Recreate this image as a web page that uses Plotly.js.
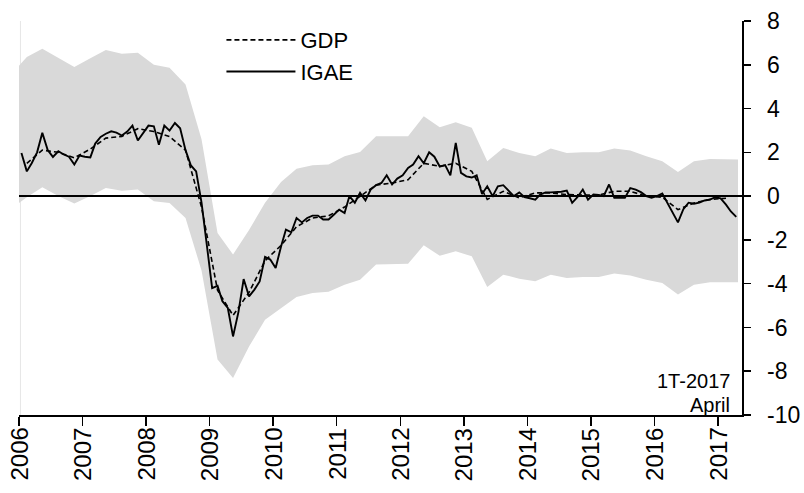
<!DOCTYPE html>
<html>
<head>
<meta charset="utf-8">
<script src="https://cdn.plot.ly/plotly-3.0.1.min.js"></script>
<style>html,body{margin:0;padding:0;background:#fff}#chart{width:804px;height:493px}</style>
</head>
<body>
<div id="chart"></div>
<script>
// IGAE, monthly, Jan 2006 - Apr 2017
const igaeStart = [2006, 1];
const igae = [
  1.97, 1.13, 1.5, 2.0, 2.89, 2.1, 1.79, 2.05, 1.9, 1.8, 1.44, 1.85,
  1.8, 1.77, 2.4, 2.7, 2.85, 2.96, 2.9, 2.77, 2.95, 3.22, 2.54, 2.9,
  3.22, 3.19, 2.35, 3.22, 2.99, 3.34, 3.1, 2.1, 1.4, 1.13, -0.3, -2.2,
  -4.2, -4.1, -4.8, -5.11, -6.41, -5.3, -3.79, -4.58, -4.27, -3.9, -2.78, -2.9,
  -3.28, -2.3, -1.53, -1.65, -1.0, -1.2, -1.0, -0.89, -0.89, -1.07, -1.07, -0.85,
  -0.62, -0.77, 0.0, -0.3, 0.15, -0.2, 0.3, 0.5, 0.6, 0.95, 0.53, 0.8,
  0.95, 1.29, 1.44, 1.82, 1.5, 2.0, 1.8, 1.35, 1.42, 0.95, 2.43, 1.06,
  0.9, 0.85, 0.95, 0.1, 0.45, 0.0, 0.45, 0.5, 0.25, 0.0, 0.17, -0.05,
  -0.1, -0.16, 0.07, 0.17, 0.17, 0.17, 0.2, 0.25, -0.31, -0.05, 0.3, -0.16,
  0.07, 0.05, 0.0, 0.53, -0.08, -0.08, -0.08, 0.37, 0.3, 0.18, 0.0, -0.08,
  0.0, 0.12, -0.3, -0.7, -1.2, -0.6, -0.3, -0.35, -0.3, -0.2, -0.16, -0.05,
  -0.1, -0.39, -0.7, -0.95
];
// GDP, quarterly, 2006Q1 - 2017Q1
const gdpStart = [2006, 1];
const gdp = [
  1.5, 2.1, 2.0, 1.75, 2.15, 2.65, 2.73, 3.08, 2.95, 2.72,
  2.1, -0.5, -4.3, -5.45, -4.4, -2.95, -2.25, -1.4, -1.0, -0.9,
  -0.5, 0.0, 0.5, 0.6, 0.75, 1.5, 1.36, 1.5, 1.13, -0.15,
  0.22, -0.08, 0.15, 0.15, 0.07, 0.05, 0.05, 0.22, 0.22, 0.0,
  -0.05, -0.62, -0.31, -0.15, -0.1
];
// Interval band: first point at Jan 2006, quarterly points, last point at Apr 2017
const bandFirstDate = "2006-01-01";
const bandLastDate = "2017-04-25";
const bandUpper = [
  5.95,
  6.35, 6.73, 6.3, 5.9, 6.3, 6.67, 6.5, 6.55, 6.0, 5.86,
  5.1, 2.6, -1.68, -2.67, -1.55, -0.3, 0.65, 1.25, 1.41, 1.44,
  1.82, 2.02, 2.73, 2.73, 2.73, 3.65, 3.15, 3.37, 3.12, 1.59,
  2.2, 1.97, 1.82, 2.17, 1.97, 2.0, 2.0, 2.17, 2.08, 1.82,
  1.59, 1.1, 1.59, 1.7, 1.68,
  1.67
];
const bandLower = [
  -0.31,
  -0.05, 0.4, 0.0, -0.34, 0.0, 0.37, 0.25, 0.3, -0.24, -0.31,
  -1.0, -3.4, -7.47, -8.31, -6.87, -5.65, -5.1, -4.61, -4.43, -4.37,
  -4.05, -3.82, -3.13, -3.1, -3.09, -2.25, -2.72, -2.52, -2.75, -4.15,
  -3.59, -3.77, -3.89, -3.59, -3.74, -3.7, -3.69, -3.54, -3.63, -3.82,
  -3.97, -4.5, -4.05, -3.94, -3.94,
  -3.94
];
const yearTicks = ["2006","2007","2008","2009","2010","2011","2012","2013","2014","2015","2016","2017"];
const yTicks = [8, 6, 4, 2, 0, -2, -4, -6, -8, -10];
const seriesNames = ["GDP", "IGAE"];
const noteLines = ["1T-2017", "April"];
const titleText = "Percent of potential output, s. a.";

function pad(n){return (n<10?"0":"")+n;}
function monthDates(start, n){
  const out=[]; let y=start[0], m=start[1];
  for(let i=0;i<n;i++){ out.push(y+"-"+pad(m)+"-15"); m++; if(m>12){m=1;y++;} }
  return out;
}
function quarterDates(start, n){
  const out=[]; let y=start[0], q=start[1];
  for(let i=0;i<n;i++){ out.push(y+"-"+pad(3*(q-1)+2)+"-15"); q++; if(q>4){q=1;y++;} }
  return out;
}
const igaeX = monthDates(igaeStart, igae.length);
const gdpX = quarterDates(gdpStart, gdp.length);
const bandX = [bandFirstDate].concat(quarterDates([2006,1], bandUpper.length-2), [bandLastDate]);

const FONT = "Liberation Sans, Arial, sans-serif";
const data = [
  {x: bandX, y: bandLower, type:"scatter", mode:"lines", line:{width:0, color:"#d9d9d9"}, showlegend:false, hoverinfo:"skip"},
  {x: bandX, y: bandUpper, type:"scatter", mode:"lines", fill:"tonexty", fillcolor:"#d9d9d9", line:{width:0, color:"#d9d9d9"}, showlegend:false, hoverinfo:"skip"},
  {x: gdpX, y: gdp, type:"scatter", mode:"lines", name: seriesNames[0], line:{color:"#000", width:1.6, dash:"5px,3px"}},
  {x: igaeX, y: igae, type:"scatter", mode:"lines", name: seriesNames[1], line:{color:"#000", width:1.9}}
];

const yearLabels = yearTicks.map(y => ({
  text: y, x: y + "-01-01", xref: "x", y: 0, yref: "paper", yshift: -11,
  xanchor: "center", yanchor: "top", textangle: -90, showarrow: false,
  font: {family: FONT, size: 24, color: "#000"}
}));

const layout = {
  width: 804, height: 493,
  margin: {l: 19, r: 62, t: 21, b: 78, pad: 0},
  paper_bgcolor: "#fff", plot_bgcolor: "#fff",
  font: {family: FONT, size: 22, color: "#000"},
  showlegend: true,
  legend: {x: 0.28, y: 1.005, xanchor: "left", yanchor: "top", bgcolor: "rgba(0,0,0,0)", borderwidth: 0,
           traceorder: "normal",
           font: {family: FONT, size: 22, color: "#000"}, itemwidth: 69, tracegroupgap: 0},
  xaxis: {
    type: "date", range: ["2006-01-01", "2017-05-18"],
    tickmode: "array", tickvals: yearTicks.map(y => y+"-01-01"), ticktext: yearTicks, showticklabels: false,
    ticks: "outside", ticklen: 9, tickwidth: 1.5, tickcolor: "#000",
    showline: true, linecolor: "#000", linewidth: 1.5, showgrid: false, zeroline: false,
    automargin: false
  },
  yaxis: {
    range: [-10, 8], side: "right", tickmode: "array", tickvals: yTicks, ticktext: yTicks.map(String),
    ticks: "outside", ticklen: 7, tickwidth: 1.5, tickcolor: "#000",
    showline: true, linecolor: "#000", linewidth: 1.5, showgrid: false, zeroline: false,
    automargin: false, ticklabelstandoff: 12, tickfont: {family: FONT, size: 23, color: "#000"}
  },
  shapes: [
    {type:"line", xref:"paper", yref:"y", x0:0, x1:1, y0:0, y1:0, line:{color:"#000", width:2}, layer:"above"},
    {type:"line", xref:"paper", yref:"paper", x0:0.002, x1:0.002, y0:0, y1:1, line:{color:"#e6e6e6", width:1}, layer:"below"}
  ],
  annotations: [
    {text: noteLines[0], xref:"paper", yref:"paper", x:1, y:0.086, xanchor:"right", yanchor:"middle", xshift:-10, showarrow:false, font:{family:FONT, size:20, color:"#000"}},
    {text: noteLines[1], xref:"paper", yref:"paper", x:1, y:0.026, xanchor:"right", yanchor:"middle", xshift:-10, showarrow:false, font:{family:FONT, size:20, color:"#000"}},
    {text: titleText, xref:"paper", yref:"paper", x:0.51, y:1.047, xanchor:"center", yanchor:"bottom", showarrow:false, font:{family:"Liberation Serif, Times New Roman, serif", size:32, color:"#000"}}
  ].concat(yearLabels)
};

Plotly.newPlot("chart", data, layout, {staticPlot: true, displayModeBar: false});
</script>
</body>
</html>
